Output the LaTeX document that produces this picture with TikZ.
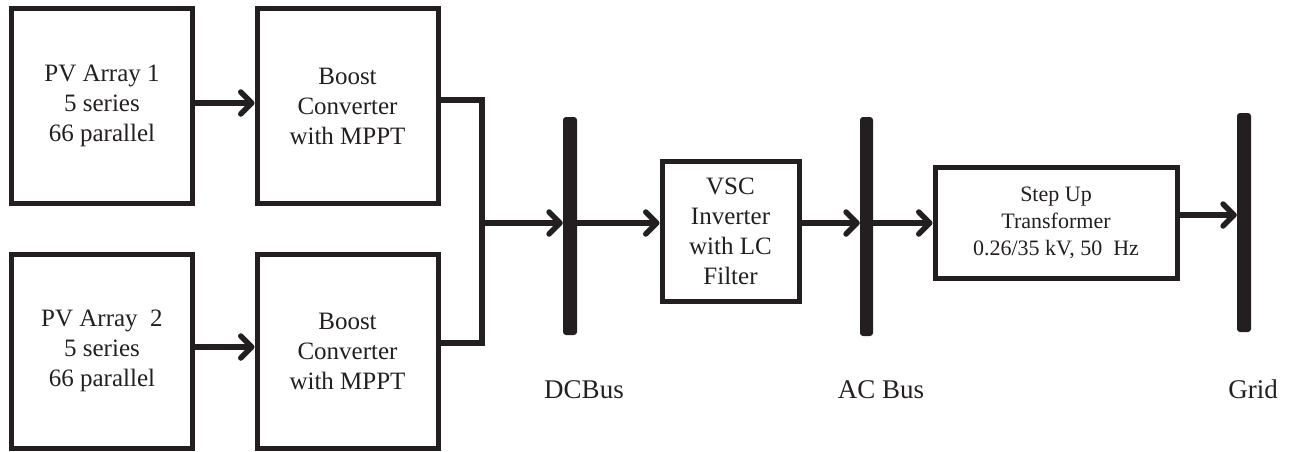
\documentclass[tikz,border=0pt]{standalone}
\usepackage{fontspec}
\setmainfont{Liberation Serif}
\usetikzlibrary{arrows.meta}
\definecolor{ink}{HTML}{231F20}
\tikzset{
  blk/.style={draw=ink, line width=5pt, rectangle, inner sep=0pt, align=center, text=ink,
    font=\rmfamily\fontsize{25}{30}\selectfont},
  bus/.style={fill=ink, draw=none, rounded corners=3pt, inner sep=0pt, minimum width=14pt},
  conn/.style={draw=ink, line width=5.5pt, line join=miter},
  arr/.style={conn, -{Straight Barb[length=11pt,width=22pt,round]}},
  lbl/.style={anchor=base, font=\rmfamily\fontsize{27}{30}\selectfont, text=ink}
}
\begin{document}
\begin{tikzpicture}[x=1pt,y=-1pt]
\useasboundingbox (0,0) rectangle (1293,452);
\node[blk, minimum width=181pt, minimum height=195pt] (pv1) at (102,106) {PV Array 1\\5 series\\66 parallel};
\node[blk, minimum width=181pt, minimum height=195pt] (b1) at (347.5,106) {Boost\\Converter\\with MPPT};
\node[blk, minimum width=181pt, minimum height=194pt] (pv2) at (102,351) {PV Array\ \ 2\\5 series\\66 parallel};
\node[blk, minimum width=181pt, minimum height=194pt] (b2) at (347.5,351) {Boost\\Converter\\with MPPT};
\node[blk, minimum width=137pt, minimum height=140pt] (vsc) at (730.5,231) {VSC\\Inverter\\with LC\\Filter};
\node[blk, minimum width=242pt, minimum height=111pt, font=\rmfamily\fontsize{22}{27}\selectfont] (tr) at (1056,222.5) {Step Up\\Transformer\\0.26/35 kV, 50\ \ Hz};
\node[bus, minimum height=218pt] (dc) at (570,226) {};
\node[bus, minimum height=219pt, minimum width=13pt] (ac) at (866.5,226.5) {};
\node[bus, minimum height=219pt] (grid) at (1244,222.5) {};
\node[lbl] (ldc) at (584,398) {DCBus};
\node[lbl] (lac) at (881,398) {AC Bus};
\node[lbl] (lgrid) at (1253,398) {Grid};
\coordinate (t1) at (482,100);
\coordinate (t2) at (482,343);
\coordinate (j) at (482,223);
\draw[arr] ([yshift=3pt]pv1.east) -- ([yshift=3pt]b1.west);
\draw[arr] ([yshift=4pt]pv2.east) -- ([yshift=4pt]b2.west);
\draw[conn] (b1.east |- t1) -- (t1) -- (t2) -- (b2.east |- t2);
\draw[arr] (j) -- (j -| dc.west);
\draw[arr] (dc.east |- j) -- (j -| vsc.west);
\draw[arr] (vsc.east |- j) -- (j -| ac.west);
\draw[arr] (ac.east |- j) -- (j -| tr.west);
\coordinate (k) at (1179,215);
\draw[arr] (tr.east |- k) -- (k -| grid.west);
\end{tikzpicture}
\end{document}
